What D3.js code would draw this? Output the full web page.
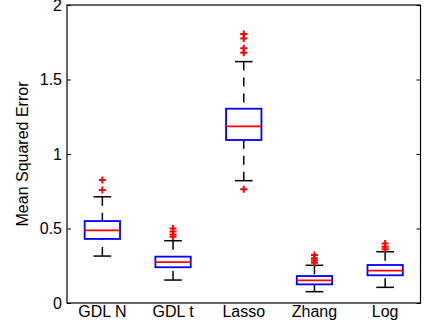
<!DOCTYPE html>
<html>
<head>
<meta charset="utf-8">
<script src="https://cdn.jsdelivr.net/npm/d3@7"></script>
<style>
  body { margin: 0; background: #fff; }
  svg { display: block; font-family: "Liberation Sans", Arial, sans-serif; }
</style>
</head>
<body>
<div id="chart"></div>
<script>
// Box statistics.
const categories = ['GDL N', 'GDL t', 'Lasso', 'Zhang', 'Log'];
const q1 = [0.43, 0.24, 1.094, 0.125, 0.186];
const median = [0.487, 0.275, 1.186, 0.152, 0.217];
const q3 = [0.55, 0.311, 1.304, 0.181, 0.255];
const whiskerLow = [0.315, 0.154, 0.821, 0.076, 0.105];
const whiskerHigh = [0.713, 0.418, 1.62, 0.253, 0.344];
const outliers = [
  [0.758, 0.826],
  [0.445, 0.46, 0.48, 0.50],
  [0.763, 1.68, 1.709, 1.776, 1.805],
  [0.27, 0.285, 0.30, 0.322],
  [0.36, 0.378, 0.40]
];
const yTicks = [0, 0.5, 1, 1.5, 2];
const yLabel = 'Mean Squared Error';

const W = 430, H = 324;
const margin = { top: 5, right: 9.5, bottom: 21, left: 67 };
const width = W - margin.left - margin.right;
const height = H - margin.top - margin.bottom;

const svg = d3.select('#chart').append('svg')
  .attr('width', W)
  .attr('height', H);

const g = svg.append('g')
  .attr('transform', `translate(${margin.left},${margin.top})`);

const x = d3.scaleBand().domain(categories).range([0, width]).padding(0);
const y = d3.scaleLinear().domain([0, 2]).range([height, 0]);

const bw = x.bandwidth() * 0.5;   // box width
const cw = x.bandwidth() * 0.25;  // whisker cap width

// Axes (ticks point inward, box on).
const yAxis = d3.axisLeft(y).tickValues(yTicks).tickFormat(d => String(d))
  .tickSize(-4).tickPadding(5);
const yAxisR = d3.axisRight(y).tickValues(yTicks).tickFormat('')
  .tickSize(-4);
const xAxis = d3.axisBottom(x).tickSize(0).tickPadding(3);

const gy = g.append('g').call(yAxis);
const gyr = g.append('g').attr('transform', `translate(${width},0)`).call(yAxisR);
const gx = g.append('g').attr('transform', `translate(0,${height})`).call(xAxis);

[gy, gyr, gx].forEach(a => {
  a.select('.domain').remove();
  a.selectAll('.tick line').attr('stroke', '#000').attr('stroke-width', 1);
  a.selectAll('.tick text').attr('fill', '#000').style('font-size', '16px');
});

g.append('rect')
  .attr('x', 0).attr('y', 0)
  .attr('width', width).attr('height', height)
  .attr('fill', 'none').attr('stroke', '#000').attr('stroke-width', 1.2);

svg.append('text')
  .attr('transform', `translate(28,${margin.top + height / 2}) rotate(-90)`)
  .attr('text-anchor', 'middle')
  .style('font-size', '16px')
  .text(yLabel);

// Boxes
const boxes = g.selectAll('g.box').data(categories)
  .enter().append('g')
  .attr('class', 'box')
  .attr('transform', d => `translate(${x(d) + x.bandwidth() / 2},0)`);

// dashed whiskers
boxes.append('line')
  .attr('x1', 0).attr('x2', 0)
  .attr('y1', (d, i) => y(whiskerHigh[i]))
  .attr('y2', (d, i) => y(q3[i]))
  .attr('stroke', '#000').attr('stroke-width', 1.5)
  .attr('stroke-dasharray', '9,7');
boxes.append('line')
  .attr('x1', 0).attr('x2', 0)
  .attr('y1', (d, i) => y(whiskerLow[i]))
  .attr('y2', (d, i) => y(q1[i]))
  .attr('stroke', '#000').attr('stroke-width', 1.5)
  .attr('stroke-dasharray', '9,7');

// caps
boxes.append('line')
  .attr('x1', -cw / 2).attr('x2', cw / 2)
  .attr('y1', (d, i) => y(whiskerHigh[i]))
  .attr('y2', (d, i) => y(whiskerHigh[i]))
  .attr('stroke', '#000').attr('stroke-width', 1.5);
boxes.append('line')
  .attr('x1', -cw / 2).attr('x2', cw / 2)
  .attr('y1', (d, i) => y(whiskerLow[i]))
  .attr('y2', (d, i) => y(whiskerLow[i]))
  .attr('stroke', '#000').attr('stroke-width', 1.5);

// box
boxes.append('rect')
  .attr('x', -bw / 2)
  .attr('width', bw)
  .attr('y', (d, i) => y(q3[i]))
  .attr('height', (d, i) => y(q1[i]) - y(q3[i]))
  .attr('fill', '#fff')
  .attr('stroke', '#0000ff').attr('stroke-width', 1.8);

// median
boxes.append('line')
  .attr('x1', -bw / 2).attr('x2', bw / 2)
  .attr('y1', (d, i) => y(median[i]))
  .attr('y2', (d, i) => y(median[i]))
  .attr('stroke', '#ff0000').attr('stroke-width', 1.8);

// outliers as red '+'
const ms = 3.5;
boxes.each(function (d, i) {
  const pts = d3.select(this).selectAll('path.out').data(outliers[i])
    .enter().append('path')
    .attr('class', 'out')
    .attr('d', v => `M${-ms},${y(v)}H${ms}M0,${y(v) - ms}V${y(v) + ms}`)
    .attr('stroke', '#ff0000').attr('stroke-width', 2)
    .attr('fill', 'none');
});
</script>
</body>
</html>
